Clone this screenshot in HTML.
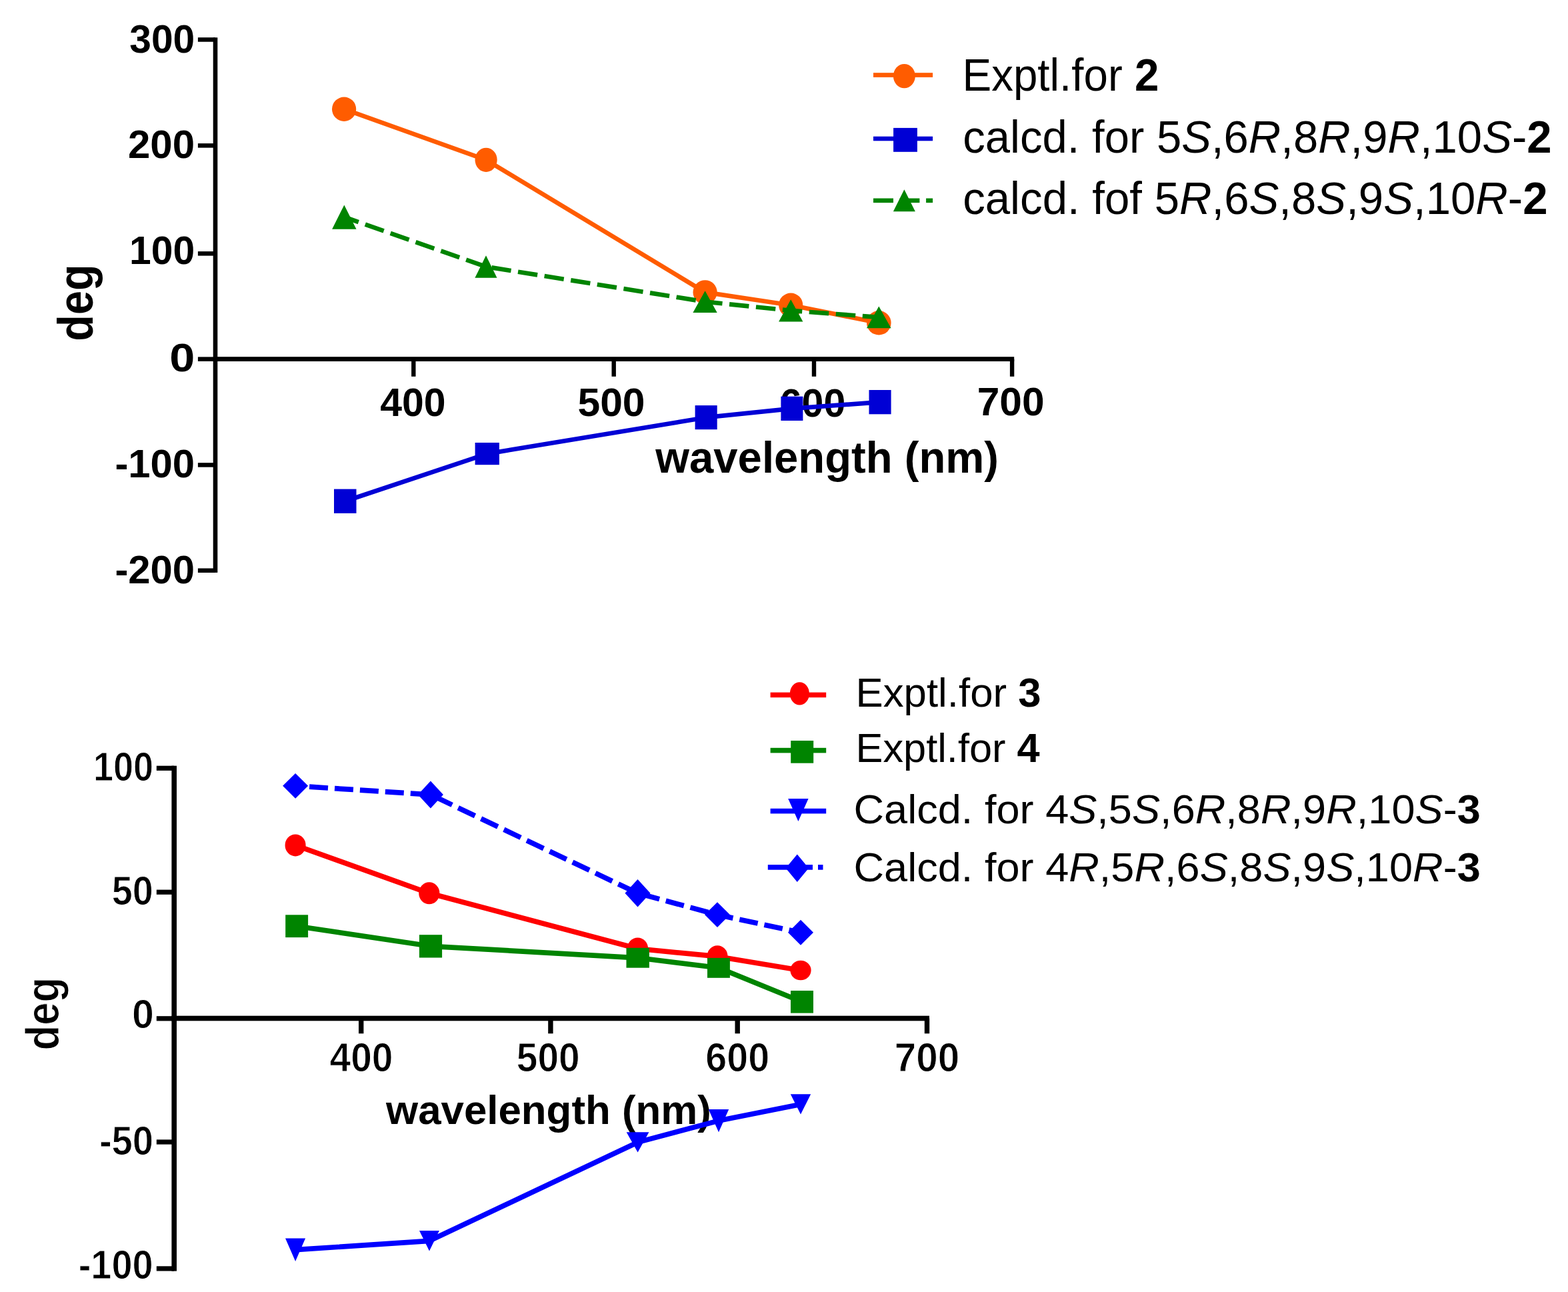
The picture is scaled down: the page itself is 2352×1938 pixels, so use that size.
<!DOCTYPE html>
<html><head><meta charset="utf-8"><title>Optical rotation vs wavelength</title>
<style>html,body{margin:0;padding:0;background:#fff;}svg{display:block;}</style>
</head><body>
<svg width="2352" height="1938" viewBox="0 0 2352 1938">
<rect width="2352" height="1938" fill="#fff"/>
<g font-family="Liberation Sans, Arial, sans-serif" fill="#000">
<rect x="319.7" y="56.3" width="6.6" height="802.6" fill="#000"/>
<rect x="296.9" y="56.2" width="26.1" height="6.5" fill="#000"/>
<rect x="296.9" y="215.1" width="26.1" height="6.5" fill="#000"/>
<rect x="296.9" y="377.1" width="26.1" height="6.5" fill="#000"/>
<rect x="296.9" y="535.4" width="26.1" height="6.5" fill="#000"/>
<rect x="296.9" y="694.2" width="26.1" height="6.5" fill="#000"/>
<rect x="296.9" y="852.5" width="26.1" height="6.5" fill="#000"/>
<rect x="320" y="535.2" width="1201.2" height="6.8" fill="#000"/>
<rect x="617.1" y="538.6" width="6.4" height="26.2" fill="#000"/>
<rect x="917.5" y="538.6" width="6.4" height="26.2" fill="#000"/>
<rect x="1217.8" y="538.6" width="6.4" height="26.2" fill="#000"/>
<rect x="1514.9" y="538.6" width="6.4" height="26.2" fill="#000"/>
<text id="T300" x="292.2" y="78.5" font-size="59.4" font-weight="bold" text-anchor="end" textLength="97.9" lengthAdjust="spacingAndGlyphs">300</text>
<text id="T200" x="292.1" y="236.6" font-size="59.4" font-weight="bold" text-anchor="end" textLength="100.1" lengthAdjust="spacingAndGlyphs">200</text>
<text id="T100" x="292.1" y="396.2" font-size="59.4" font-weight="bold" text-anchor="end" textLength="98.1" lengthAdjust="spacingAndGlyphs">100</text>
<text id="T0" x="292.3" y="557.2" font-size="59.4" font-weight="bold" text-anchor="end" textLength="38" lengthAdjust="spacingAndGlyphs">0</text>
<text id="T-100" x="292.1" y="716" font-size="59.4" font-weight="bold" text-anchor="end" textLength="119.7" lengthAdjust="spacingAndGlyphs">-100</text>
<text id="T-200" x="292.1" y="874.5" font-size="59.4" font-weight="bold" text-anchor="end" textLength="119.7" lengthAdjust="spacingAndGlyphs">-200</text>
<text id="T400" x="619.4" y="624.2" font-size="59.4" font-weight="bold" text-anchor="middle" textLength="98.3" lengthAdjust="spacingAndGlyphs">400</text>
<text id="T500" x="917" y="624.2" font-size="59.4" font-weight="bold" text-anchor="middle" textLength="101.1" lengthAdjust="spacingAndGlyphs">500</text>
<text id="T600" x="1219" y="624.8" font-size="59" font-weight="bold" text-anchor="middle">600</text>
<text id="T700" x="1516.1" y="623.3" font-size="59.4" font-weight="bold" text-anchor="middle" textLength="100.9" lengthAdjust="spacingAndGlyphs">700</text>
<text id="Twave" x="983.3" y="708.8" font-size="66.9" font-weight="bold" text-anchor="start" textLength="514.7" lengthAdjust="spacingAndGlyphs">wavelength (nm)</text>
<text id="Tdeg" transform="translate(139.3,511.7) rotate(-90)" x="0" y="0" font-size="73.4" font-weight="bold" text-anchor="start" textLength="115.3" lengthAdjust="spacingAndGlyphs">deg</text>
<polyline points="516.1,163.7 729.1,239.8 1057.6,438.4 1186.2,457.7 1318.3,484.3" fill="none" stroke="#ff5c00" stroke-width="6.7" stroke-linejoin="round"/>
<ellipse cx="516.1" cy="163.7" rx="18.1" ry="18.2" fill="#ff5c00"/>
<ellipse cx="729.1" cy="239.8" rx="16.6" ry="18.1" fill="#ff5c00"/>
<ellipse cx="1057.6" cy="438.4" rx="18.1" ry="18.2" fill="#ff5c00"/>
<ellipse cx="1186.2" cy="457.7" rx="18.1" ry="18.2" fill="#ff5c00"/>
<ellipse cx="1318.3" cy="484.3" rx="18.3" ry="18.2" fill="#ff5c00"/>
<polyline points="517.8,751.8 730.8,680.6 1059.2,626.2 1187.9,612.9 1320,603.1" fill="none" stroke="#0000d5" stroke-width="6.7" stroke-linejoin="round"/>
<rect x="501" y="733.6" width="33.5" height="36.3" fill="#0000d5"/>
<rect x="712.6" y="664" width="36.3" height="33.2" fill="#0000d5"/>
<rect x="1042.6" y="608.1" width="33.1" height="36.1" fill="#0000d5"/>
<rect x="1171.4" y="594.7" width="33" height="36.3" fill="#0000d5"/>
<rect x="1303.5" y="585" width="33.1" height="36.3" fill="#0000d5"/>
<polyline points="516.3,325.5 729,400 1057.6,452.6 1186.2,465.9 1318.3,475.9" fill="none" stroke="#008400" stroke-width="6.7" stroke-linejoin="round" stroke-dasharray="29.5 10.6" stroke-dashoffset="6.7"/>
<polygon points="516.3,307.4 534.5,343.7 498.1,343.7" fill="#008400"/>
<polygon points="729,383.3 745.5,416.7 712.4,416.7" fill="#008400"/>
<polygon points="1057.6,436.3 1075.7,469 1039.4,469" fill="#008400"/>
<polygon points="1186.2,449.2 1204.4,482.6 1168.1,482.6" fill="#008400"/>
<polygon points="1318.3,459.4 1336.6,492.3 1300,492.3" fill="#008400"/>
<rect x="1310" y="109.2" width="89.1" height="6.7" fill="#ff5c00"/>
<ellipse cx="1356.4" cy="114.1" rx="16.5" ry="18.2" fill="#ff5c00"/>
<rect x="1310" y="204.7" width="89.1" height="6.6" fill="#0000d5"/>
<rect x="1340.1" y="191.9" width="35.8" height="35.9" fill="#0000d5"/>
<rect x="1310" y="297.5" width="30" height="6.6" fill="#008400"/>
<rect x="1349.5" y="297.5" width="29.9" height="6.6" fill="#008400"/>
<rect x="1389.1" y="297.5" width="10" height="6.6" fill="#008400"/>
<polygon points="1356.4,284.2 1372.9,317.3 1339.9,317.3" fill="#008400"/>
<text id="Tleg1" x="1443.5" y="135.9" font-size="69" text-anchor="start" textLength="294.8" lengthAdjust="spacingAndGlyphs">Exptl.for <tspan font-weight="bold">2</tspan></text>
<text id="Tleg2" x="1444.3" y="228.9" font-size="69" text-anchor="start" textLength="883.2" lengthAdjust="spacingAndGlyphs">calcd. for 5<tspan font-style="italic">S</tspan>,6<tspan font-style="italic">R</tspan>,8<tspan font-style="italic">R</tspan>,9<tspan font-style="italic">R</tspan>,10<tspan font-style="italic">S</tspan>-<tspan font-weight="bold">2</tspan></text>
<text id="Tleg3" x="1444.2" y="320.7" font-size="69" text-anchor="start" textLength="877.4" lengthAdjust="spacingAndGlyphs">calcd. fof 5<tspan font-style="italic">R</tspan>,6<tspan font-style="italic">S</tspan>,8<tspan font-style="italic">S</tspan>,9<tspan font-style="italic">S</tspan>,10<tspan font-style="italic">R</tspan>-<tspan font-weight="bold">2</tspan></text>
<rect x="257.4" y="1148.7" width="7.6" height="757.9" fill="#000"/>
<rect x="234.8" y="1148.7" width="26.4" height="7.2" fill="#000"/>
<rect x="234.8" y="1334.6" width="26.4" height="7.2" fill="#000"/>
<rect x="234.8" y="1524.2" width="26.4" height="7.2" fill="#000"/>
<rect x="234.8" y="1709.4" width="26.4" height="7.2" fill="#000"/>
<rect x="234.8" y="1899.3" width="26.4" height="7.2" fill="#000"/>
<rect x="257.4" y="1523.7" width="1136.6" height="7.6" fill="#000"/>
<rect x="538" y="1527.5" width="7.4" height="22.8" fill="#000"/>
<rect x="822.2" y="1527.5" width="7.4" height="22.8" fill="#000"/>
<rect x="1102.5" y="1527.5" width="7.4" height="22.8" fill="#000"/>
<rect x="1386.8" y="1527.5" width="7.4" height="22.8" fill="#000"/>
<text id="B100" x="230" y="1171.3" font-size="61.1" font-weight="bold" stroke="#fff" stroke-width="1" text-anchor="end" textLength="90.1" lengthAdjust="spacingAndGlyphs">100</text>
<text id="B50" x="229.8" y="1356.7" font-size="61.1" font-weight="bold" stroke="#fff" stroke-width="1" text-anchor="end" textLength="62" lengthAdjust="spacingAndGlyphs">50</text>
<text id="B0" x="230.9" y="1542.4" font-size="61.1" font-weight="bold" stroke="#fff" stroke-width="1" text-anchor="end" textLength="32.9" lengthAdjust="spacingAndGlyphs">0</text>
<text id="B-50" x="230.1" y="1731.8" font-size="61.1" font-weight="bold" stroke="#fff" stroke-width="1" text-anchor="end" textLength="81.2" lengthAdjust="spacingAndGlyphs">-50</text>
<text id="B-100" x="229.6" y="1918" font-size="61.1" font-weight="bold" stroke="#fff" stroke-width="1" text-anchor="end" textLength="111.9" lengthAdjust="spacingAndGlyphs">-100</text>
<text id="B400" x="542" y="1606.9" font-size="61.1" font-weight="bold" stroke="#fff" stroke-width="1" text-anchor="middle" textLength="94.9" lengthAdjust="spacingAndGlyphs">400</text>
<text id="B500" x="822.2" y="1606.9" font-size="61.1" font-weight="bold" stroke="#fff" stroke-width="1" text-anchor="middle" textLength="94.9" lengthAdjust="spacingAndGlyphs">500</text>
<text id="B600" x="1106.2" y="1606.9" font-size="61.1" font-weight="bold" stroke="#fff" stroke-width="1" text-anchor="middle" textLength="95.9" lengthAdjust="spacingAndGlyphs">600</text>
<text id="B700" x="1390.5" y="1606.9" font-size="61.1" font-weight="bold" stroke="#fff" stroke-width="1" text-anchor="middle" textLength="97.5" lengthAdjust="spacingAndGlyphs">700</text>
<text id="Bwave" x="579.1" y="1686.2" font-size="61" font-weight="bold" text-anchor="start" textLength="487.7" lengthAdjust="spacingAndGlyphs">wavelength (nm)</text>
<text id="Bdeg" transform="translate(87.8,1575.5) rotate(-90)" x="0" y="0" font-size="69.6" font-weight="bold" stroke="#fff" stroke-width="1" text-anchor="start" textLength="109.6" lengthAdjust="spacingAndGlyphs">deg</text>
<polyline points="443.1,1267.9 643.8,1339.8 956.5,1423 1076.1,1434.7 1201,1455.5" fill="none" stroke="#ff0000" stroke-width="7.7" stroke-linejoin="round"/>
<ellipse cx="443.1" cy="1267.9" rx="15.5" ry="16.5" fill="#ff0000"/>
<ellipse cx="643.8" cy="1339.8" rx="15.6" ry="16.5" fill="#ff0000"/>
<ellipse cx="956.5" cy="1423" rx="15.6" ry="16.6" fill="#ff0000"/>
<ellipse cx="1076.1" cy="1434.7" rx="15.5" ry="16.5" fill="#ff0000"/>
<ellipse cx="1201" cy="1455.5" rx="15.6" ry="14.8" fill="#ff0000"/>
<polyline points="445.1,1389.2 646,1419.3 956.7,1436.8 1078,1451.8 1203,1502.8" fill="none" stroke="#008400" stroke-width="7.7" stroke-linejoin="round"/>
<rect x="428.2" y="1372.3" width="33.9" height="33.8" fill="#008400"/>
<rect x="628.9" y="1402.2" width="34.2" height="34.3" fill="#008400"/>
<rect x="939.5" y="1421.8" width="34.4" height="29.9" fill="#008400"/>
<rect x="1061" y="1436.9" width="33.9" height="29.9" fill="#008400"/>
<rect x="1186" y="1486" width="34" height="33.6" fill="#008400"/>
<polyline points="443.1,1874.7 644,1861.3 956.6,1713.4 1078,1681.1 1201,1656.4" fill="none" stroke="#0000ff" stroke-width="7.7" stroke-linejoin="round"/>
<polygon points="428,1857.4 458.1,1857.4 443.1,1891.9" fill="#0000ff"/>
<polygon points="629,1846.1 658.9,1846.1 644,1876.5" fill="#0000ff"/>
<polygon points="939.7,1698.2 973.5,1698.2 956.6,1728.6" fill="#0000ff"/>
<polygon points="1062.8,1664 1093.2,1664 1078,1698.2" fill="#0000ff"/>
<polygon points="1185.8,1641.3 1216.2,1641.3 1201,1671.6" fill="#0000ff"/>
<polyline points="443.1,1178.8 645.9,1192 956.5,1339.8 1076,1372.1 1201,1398.8" fill="none" stroke="#0000ff" stroke-width="7.7" stroke-linejoin="round" stroke-dasharray="28 10" stroke-dashoffset="17"/>
<polygon points="443.1,1159.9 462.1,1178.8 443.1,1197.8 424.1,1178.8" fill="#0000ff"/>
<polygon points="645.9,1171.4 664.9,1192 645.9,1212.6 626.9,1192" fill="#0000ff"/>
<polygon points="956.5,1319.1 975.5,1339.8 956.5,1360.6 937.5,1339.8" fill="#0000ff"/>
<polygon points="1076,1353.2 1094.9,1372.1 1076,1391 1057,1372.1" fill="#0000ff"/>
<polygon points="1201,1379.8 1220,1398.8 1201,1417.8 1182,1398.8" fill="#0000ff"/>
<rect x="1155.6" y="1038.6" width="83.6" height="7.6" fill="#ff0000"/>
<ellipse cx="1199.4" cy="1040.4" rx="14.5" ry="17.2" fill="#ff0000"/>
<rect x="1155.6" y="1121.8" width="83.6" height="7.6" fill="#008400"/>
<rect x="1186.2" y="1111" width="34" height="33.7" fill="#008400"/>
<rect x="1155.6" y="1212.8" width="83.6" height="7.6" fill="#0000ff"/>
<polygon points="1182.2,1198 1212.6,1198 1197.4,1232" fill="#0000ff"/>
<rect x="1151.8" y="1297.1" width="67.2" height="7.6" fill="#0000ff"/>
<rect x="1227" y="1297.1" width="7.5" height="7.6" fill="#0000ff"/>
<polygon points="1195.8,1281.4 1213,1302.2 1195.8,1323 1178.6,1302.2" fill="#0000ff"/>
<text id="Bleg1" x="1283.5" y="1060.1" font-size="62" text-anchor="start" textLength="278.1" lengthAdjust="spacingAndGlyphs">Exptl.for <tspan font-weight="bold">3</tspan></text>
<text id="Bleg2" x="1283.5" y="1143.1" font-size="62" text-anchor="start" textLength="276.1" lengthAdjust="spacingAndGlyphs">Exptl.for <tspan font-weight="bold">4</tspan></text>
<text id="Bleg3" x="1280.5" y="1234.6" font-size="62" text-anchor="start" textLength="940.3" lengthAdjust="spacingAndGlyphs">Calcd. for 4<tspan font-style="italic">S</tspan>,5<tspan font-style="italic">S</tspan>,6<tspan font-style="italic">R</tspan>,8<tspan font-style="italic">R</tspan>,9<tspan font-style="italic">R</tspan>,10<tspan font-style="italic">S</tspan>-<tspan font-weight="bold">3</tspan></text>
<text id="Bleg4" x="1280.5" y="1321.6" font-size="62" text-anchor="start" textLength="940.3" lengthAdjust="spacingAndGlyphs">Calcd. for 4<tspan font-style="italic">R</tspan>,5<tspan font-style="italic">R</tspan>,6<tspan font-style="italic">S</tspan>,8<tspan font-style="italic">S</tspan>,9<tspan font-style="italic">S</tspan>,10<tspan font-style="italic">R</tspan>-<tspan font-weight="bold">3</tspan></text>
</g></svg>
</body></html>
